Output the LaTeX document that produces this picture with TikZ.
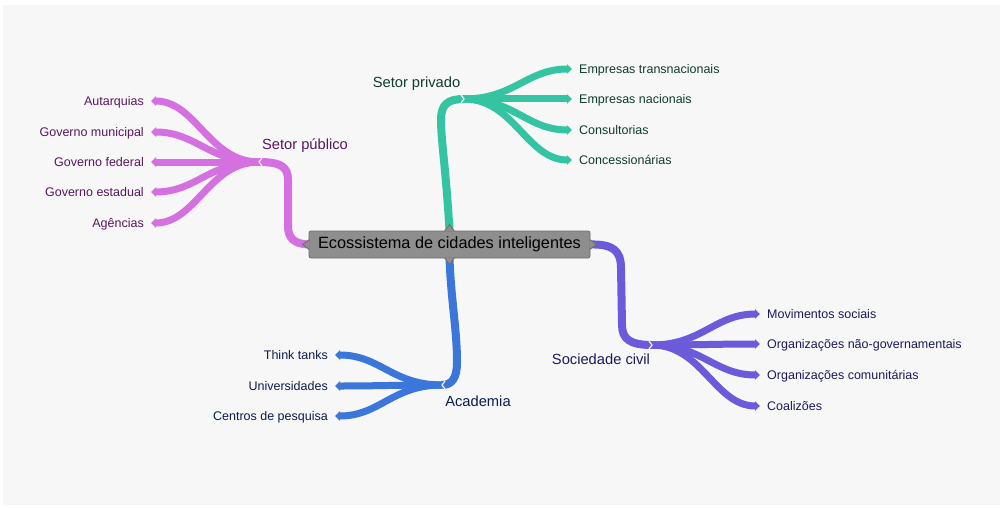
\documentclass[tikz,border=0pt]{standalone}
\usepackage{fontspec}
\setmainfont{Liberation Sans}
\usetikzlibrary{arrows.meta,calc}
\pgfdeclarelayer{paper}
\pgfdeclarelayer{lines}
\pgfsetlayers{paper,lines,main}
\definecolor{paperbg}{HTML}{F7F7F7}
\definecolor{tealline}{HTML}{35C4A2}
\definecolor{tealtext}{HTML}{0F3D30}
\definecolor{publine}{HTML}{D470E0}
\definecolor{pubtext}{HTML}{5A1660}
\definecolor{acline}{HTML}{3B77DA}
\definecolor{actext}{HTML}{0E1C4E}
\definecolor{socline}{HTML}{6B5BDB}
\definecolor{soctext}{HTML}{1C1A5C}
\definecolor{rootfill}{HTML}{8E8E8E}
\definecolor{rootdraw}{HTML}{6E6E6E}
\begin{document}
\begin{tikzpicture}[x=1pt,y=-1pt,
  leafR/.style={anchor=west,inner xsep=7pt,inner ysep=0pt,text height=9pt,text depth=0pt,font=\fontsize{12.5pt}{15pt}\selectfont},
  leafL/.style={anchor=east,inner xsep=7pt,inner ysep=0pt,text height=9pt,text depth=0pt,font=\fontsize{12.5pt}{15pt}\selectfont},
  midlabel/.style={inner sep=0pt,text height=10.5pt,text depth=0pt,font=\fontsize{14.7pt}{17pt}\selectfont},
  rootbox/.style={fill=rootfill,draw=rootdraw,line width=0.8pt,rounded corners=2pt,minimum width=281pt,minimum height=27pt,inner sep=0pt,font=\fontsize{16.3pt}{19pt}\selectfont,text=black},
  trunk/.style={line width=8pt},
  fan/.style={line width=7pt,-{Triangle[length=5pt,width=9.5pt]}},
  notch/.style={draw=paperbg,line width=1.2pt}
]
\useasboundingbox (0,0) rectangle (1003,508);
\begin{pgfonlayer}{paper}
\fill[white] (0,0) rectangle (1003,508);
\fill[paperbg] (3,5) rectangle (1000,505);
\end{pgfonlayer}

% root
\node[rootbox] (root) at (449.5,244.5) {Ecossistema de cidades inteligentes};

% hubs
\coordinate (hp) at (464,99);
\coordinate (hpub) at (259,162);
\coordinate (hac) at (442,385);
\coordinate (hsoc) at (652,345);

% mid labels
\node[midlabel,text=tealtext] (lp) at (416.5,82) {Setor privado};
\node[midlabel,text=pubtext] (lpub) at (305,144) {Setor público};
\node[midlabel,text=actext] (lac) at (478,401) {Academia};
\node[midlabel,text=soctext] (lsoc) at (601,359) {Sociedade civil};

% leaves: privado
\node[leafR,text=tealtext] (p1) at (572,69) {Empresas transnacionais};
\node[leafR,text=tealtext] (p2) at (572,99) {Empresas nacionais};
\node[leafR,text=tealtext] (p3) at (572,130) {Consultorias};
\node[leafR,text=tealtext] (p4) at (572,160) {Concessionárias};
% leaves: publico
\node[leafL,text=pubtext] (u1) at (151,101) {Autarquias};
\node[leafL,text=pubtext] (u2) at (151,132) {Governo municipal};
\node[leafL,text=pubtext] (u3) at (151,162) {Governo federal};
\node[leafL,text=pubtext] (u4) at (151,192) {Governo estadual};
\node[leafL,text=pubtext] (u5) at (151,223) {Agências};
% leaves: academia
\node[leafL,text=actext] (a1) at (335,355) {Think tanks};
\node[leafL,text=actext] (a2) at (335,386) {Universidades};
\node[leafL,text=actext] (a3) at (335,416) {Centros de pesquisa};
% leaves: sociedade
\node[leafR,text=soctext] (s1) at (760,314) {Movimentos sociais};
\node[leafR,text=soctext] (s2) at (760,344) {Organizações não-governamentais};
\node[leafR,text=soctext] (s3) at (760,375) {Organizações comunitárias};
\node[leafR,text=soctext] (s4) at (760,406) {Coalizões};

\begin{pgfonlayer}{lines}
% trunks
\draw[trunk,tealline] (root.north) .. controls (446,170) and (441,140) .. (441,120) .. controls (441,105) and (447,99) .. (hp);
\draw[trunk,publine] (root.west) .. controls (294,244) and (288,238) .. (288,226) -- (288,180) .. controls (288,167) and (281,162) .. (hpub);
\draw[trunk,acline] (root.south) .. controls (451,300) and (457,330) .. (457,362) .. controls (457,378) and (452,385) .. (hac);
\draw[trunk,socline] (root.east) .. controls (612,244) and (621,250) .. (621,268) -- (622,325) .. controls (622,339) and (630,345) .. (hsoc);
% fans
\foreach \n in {p1,p2,p3,p4}
  \draw[fan,tealline] (hp) .. controls +(50,0) and +(-45,0) .. (\n.west);
\foreach \n in {u1,u2,u3,u4,u5}
  \draw[fan,publine] (hpub) .. controls +(-50,0) and +(45,0) .. (\n.east);
\foreach \n in {a1,a2,a3}
  \draw[fan,acline] (hac) .. controls +(-50,0) and +(45,0) .. (\n.east);
\foreach \n in {s1,s2,s3,s4}
  \draw[fan,socline] (hsoc) .. controls +(50,0) and +(-45,0) .. (\n.west);
\end{pgfonlayer}

% root protrusions
\filldraw[fill=rootfill,draw=rootdraw,line width=0.8pt] ($(root.north)+(-5,0.6)$) -- ($(root.north)+(0,-6)$) -- ($(root.north)+(5,0.6)$);
\filldraw[fill=rootfill,draw=rootdraw,line width=0.8pt] ($(root.south)+(-5,-0.6)$) -- ($(root.south)+(0,6)$) -- ($(root.south)+(5,-0.6)$);
\filldraw[fill=rootfill,draw=rootdraw,line width=0.8pt] ($(root.west)+(0.6,-5)$) -- ($(root.west)+(-6,0)$) -- ($(root.west)+(0.6,5)$);
\filldraw[fill=rootfill,draw=rootdraw,line width=0.8pt] ($(root.east)+(-0.6,-5)$) -- ($(root.east)+(6,0)$) -- ($(root.east)+(-0.6,5)$);

% hub notches
\draw[notch] ($(hp)+(-3,-4)$) -- (hp) -- ($(hp)+(-3,4)$);
\draw[notch] ($(hsoc)+(-3,-4)$) -- (hsoc) -- ($(hsoc)+(-3,4)$);
\draw[notch] ($(hpub)+(3,-4)$) -- (hpub) -- ($(hpub)+(3,4)$);
\draw[notch] ($(hac)+(3,-4)$) -- (hac) -- ($(hac)+(3,4)$);
\end{tikzpicture}
\end{document}
